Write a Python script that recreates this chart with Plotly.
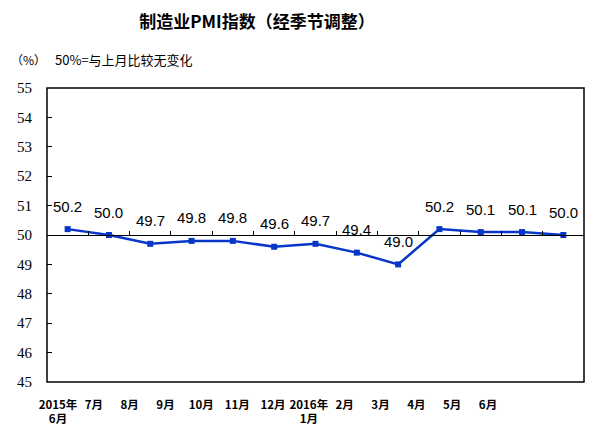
import plotly.graph_objects as go

# ---- data ----
months = ["2015年<br>6月", "7月", "8月", "9月", "10月", "11月", "12月",
          "2016年<br>1月", "2月", "3月", "4月", "5月", "6月"]
pmi = [50.2, 50.0, 49.7, 49.8, 49.8, 49.6, 49.7, 49.4, 49.0, 50.2, 50.1, 50.1, 50.0]
y_ticks = [45, 46, 47, 48, 49, 50, 51, 52, 53, 54, 55]
title_text = "制造业PMI指数（经季节调整）"
unit_text = "（%）"
note_text = "50%=与上月比较无变化"

idx = list(range(len(months)))
boundaries = [i + 0.5 for i in idx[:-1]]

W, H = 600, 435
OFF = 8  # page body margin offset
# target plot box in page pixels
PL, PR, PT, PB = 47, 584, 88, 382
plot_w = PR - PL
plot_h = PB - PT
L = PL - OFF
T = PT - OFF
R = W - L - plot_w
B = H - T - plot_h

# label axis: category 0 label at page px 58, category 12 label at page px 488
lab_first, lab_last = 58.0, 488.0
step = (lab_last - lab_first) / (len(months) - 1)
lab_range = [0 - (lab_first - PL) / step, (len(months) - 1) + (PR - lab_last) / step]

blue = "#0836C8"
cjk = "Noto Sans CJK SC"

fig = go.Figure()
fig.add_trace(go.Scatter(
    x=idx, y=pmi, mode="lines+markers",
    line=dict(color=blue, width=2.5),
    marker=dict(symbol="square", size=6, color=blue),
    hoverinfo="skip", showlegend=False, xaxis="x", yaxis="y",
))
# invisible trace to carry the label axis
fig.add_trace(go.Scatter(
    x=idx, y=pmi, mode="markers", opacity=0, hoverinfo="skip",
    showlegend=False, xaxis="x2", yaxis="y",
))

for i, v in zip(idx, pmi):
    fig.add_annotation(
        x=i, y=v, xref="x", yref="y", text=f"{v:.1f}", showarrow=False,
        yshift=23, yanchor="middle", xanchor="center",
        font=dict(family="Liberation Sans, Arial", size=15, color="black"),
    )

fig.add_annotation(
    x=(9 - PL) / plot_w, y=(PB - 60) / plot_h, xref="paper", yref="paper",
    text=unit_text, showarrow=False, xanchor="left", yanchor="middle",
    font=dict(family=cjk, size=12, color="black"),
)
fig.add_annotation(
    x=(53 - PL) / plot_w, y=(PB - 60) / plot_h, xref="paper", yref="paper",
    text=note_text, showarrow=False, xanchor="left", yanchor="middle",
    font=dict(family=cjk, size=13, color="black"),
)

# frame
fig.add_shape(type="rect", xref="paper", yref="paper", x0=0, x1=1, y0=0, y1=1,
              line=dict(color="black", width=1.5), layer="above")

fig.update_layout(
    width=W, height=H,
    margin=dict(l=L, r=R, t=T, b=B, autoexpand=False),
    paper_bgcolor="white", plot_bgcolor="white",
    title=dict(text=f"<b>{title_text}</b>", x=(257 - OFF) / W, xanchor="center",
               y=1 - (22 - OFF) / H, yanchor="middle", xref="container", yref="container",
               font=dict(family=cjk, size=17, color="black")),
    xaxis=dict(range=[-0.5, len(months) - 0.5], anchor="free", position=0.5,
               showline=True, linecolor="black", linewidth=1, automargin=False,
               ticks="inside", tickvals=boundaries, ticklen=4, tickcolor="black",
               showticklabels=False, showgrid=False, zeroline=False, fixedrange=True),
    xaxis2=dict(range=lab_range, overlaying="x", anchor="y", side="bottom",
                tickvals=idx, ticktext=[f"<b>{m}</b>" for m in months], automargin=False,
                showline=False, ticks="", showgrid=False, zeroline=False,
                tickfont=dict(family=cjk, size=11.5, color="black"), ticklabelstandoff=14),
    yaxis=dict(range=[45, 55], tickvals=y_ticks, showline=False, automargin=False,
               ticks="inside", ticklen=5, tickcolor="black",
               showgrid=False, zeroline=False, ticklabelstandoff=14,
               tickfont=dict(family="Liberation Serif", size=15, color="black")),
)

fig.write_html("out.html")
